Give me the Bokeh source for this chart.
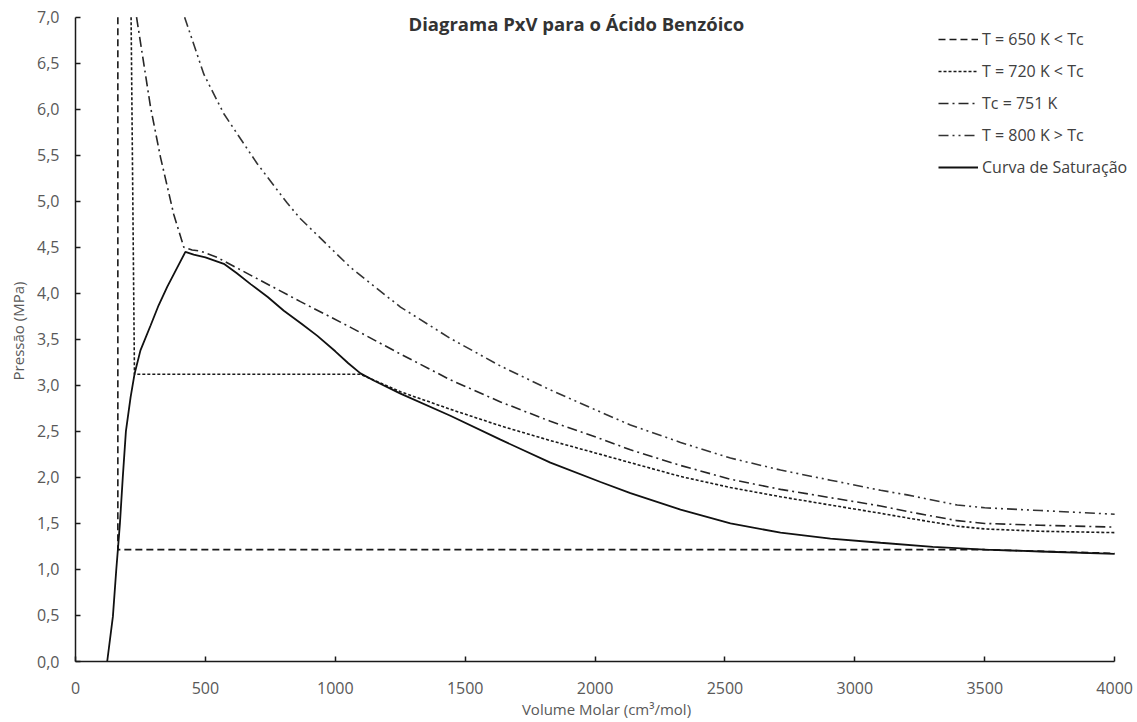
from bokeh.plotting import figure
from bokeh.models import Range1d, FixedTicker, CustomJSTickFormatter, Label, Legend, LegendItem
from bokeh.embed import file_html
from bokeh.resources import INLINE

# ---- data ----
x_ticks = [0, 500, 1000, 1500, 2000, 2500, 3000, 3500, 4000]
y_ticks = [0.0, 0.5, 1.0, 1.5, 2.0, 2.5, 3.0, 3.5, 4.0, 4.5, 5.0, 5.5, 6.0, 6.5, 7.0]

t650_v = [163, 163, 3500, 4000]
t650_p = [7.0, 1.215, 1.215, 1.175]

t720_v = [214, 227, 1097, 1251, 1443, 1636, 1828, 2021, 2136, 2329, 2521, 2714, 2906, 3099, 3201, 3394, 3500, 3714, 4000]
t720_p = [7.0, 3.12, 3.12, 2.93, 2.74, 2.56, 2.40, 2.25, 2.16, 2.01, 1.89, 1.79, 1.70, 1.61, 1.56, 1.47, 1.44, 1.415, 1.40]

tc_v = [235, 289, 327, 378, 417, 449, 480, 545, 712, 866, 1059, 1251, 1443, 1636, 1828, 2021, 2136, 2329, 2521, 2714, 2906, 3099, 3201, 3394, 3500, 3714, 4000]
tc_p = [7.0, 6.02, 5.48, 4.86, 4.50, 4.47, 4.46, 4.39, 4.14, 3.91, 3.63, 3.34, 3.06, 2.82, 2.61, 2.42, 2.30, 2.13, 1.98, 1.87, 1.78, 1.69, 1.63, 1.53, 1.50, 1.48, 1.46]

t800_v = [420, 494, 571, 699, 815, 866, 1059, 1251, 1443, 1636, 1828, 2021, 2136, 2329, 2521, 2714, 2906, 3099, 3201, 3394, 3500, 3714, 4000]
t800_p = [7.0, 6.38, 5.95, 5.41, 4.98, 4.81, 4.28, 3.85, 3.51, 3.21, 2.95, 2.71, 2.57, 2.38, 2.21, 2.08, 1.97, 1.86, 1.81, 1.70, 1.67, 1.64, 1.60]

sat_v = [122, 144, 157, 163, 171, 182, 194, 212, 227, 250, 289, 320, 353, 390, 423, 455, 500, 571, 620, 674, 740, 802, 870, 930, 1000, 1050, 1097, 1150, 1251, 1443, 1636, 1828, 2021, 2136, 2329, 2521, 2714, 2906, 3099, 3300, 3500, 3714, 4000]
sat_p = [0.0, 0.49, 1.0, 1.21, 1.5, 2.0, 2.5, 2.87, 3.12, 3.38, 3.65, 3.87, 4.07, 4.27, 4.45, 4.42, 4.39, 4.32, 4.22, 4.10, 3.96, 3.81, 3.67, 3.54, 3.37, 3.24, 3.13, 3.05, 2.91, 2.67, 2.41, 2.16, 1.95, 1.83, 1.65, 1.50, 1.40, 1.335, 1.29, 1.245, 1.215, 1.195, 1.17]

labels = ["T = 650 K < Tc", "T = 720 K < Tc", "Tc = 751 K", "T = 800 K > Tc", "Curva de Saturação"]

FONT = "Open Sans"
TXT = "#595959"

# frame reaches the top and right edges; the axes are bounded to 0-4000 and 0-7
p = figure(width=1137, height=722, output_backend="svg", toolbar_location=None,
           x_range=Range1d(0, 4088), y_range=Range1d(0, 7.181),
           min_border_left=75, min_border_right=0, min_border_top=0, min_border_bottom=61)
p.outline_line_color = None
p.xgrid.visible = False
p.ygrid.visible = False
p.background_fill_color = "white"
p.border_fill_color = "white"

for ax in (p.xaxis[0], p.yaxis[0]):
    ax.axis_line_color = "#1a1a1a"
    ax.axis_line_width = 1.5
    ax.major_tick_line_color = "#1a1a1a"
    ax.major_tick_line_width = 1.5
    ax.major_tick_in = 5
    ax.major_tick_out = 0
    ax.minor_tick_line_color = None
    ax.major_label_text_font = FONT
    ax.major_label_text_font_size = "16px"
    ax.major_label_text_color = TXT
    ax.axis_label_text_font = FONT
    ax.axis_label_text_font_size = "15px"
    ax.axis_label_text_color = TXT
    ax.axis_label_text_font_style = "normal"

p.xaxis[0].bounds = (0, 4000)
p.yaxis[0].bounds = (0, 7)
p.xaxis[0].ticker = FixedTicker(ticks=x_ticks)
p.yaxis[0].ticker = FixedTicker(ticks=y_ticks)
p.yaxis[0].formatter = CustomJSTickFormatter(code="return tick.toFixed(1).replace('.', ',');")
p.xaxis[0].major_label_standoff = 20
p.yaxis[0].major_label_standoff = 16
p.xaxis[0].axis_label = "Volume Molar (cm³/mol)"
p.yaxis[0].axis_label = "Pressão (MPa)"
p.xaxis[0].axis_label_standoff = 2
p.yaxis[0].axis_label_standoff = 6

LW = 1.6
r650 = p.line(t650_v, t650_p, line_color="#1a1a1a", line_width=LW, line_dash="7 4")
r720 = p.line(t720_v, t720_p, line_color="#1a1a1a", line_width=LW, line_dash="3 2")
rtc = p.line(tc_v, tc_p, line_color="#262626", line_width=LW, line_dash="10 4 2 4")
r800 = p.line(t800_v, t800_p, line_color="#333333", line_width=LW, line_dash="10 4 2 4 2 4")
rsat = p.line(sat_v, sat_p, line_color="#111111", line_width=1.8)

legend = Legend(items=[LegendItem(label=l, renderers=[r]) for l, r in zip(labels, [r650, r720, rtc, r800, rsat])],
                location=(863, 483), padding=0, spacing=10, glyph_width=40, glyph_height=22,
                label_height=22, label_standoff=4, border_line_color=None,
                background_fill_alpha=0, label_text_font=FONT, label_text_font_size="16px",
                label_text_color="#404040", margin=0)
p.add_layout(legend, "center")

title = Label(x=1928, y=6.93, text="Diagrama PxV para o Ácido Benzóico", text_align="center",
              text_baseline="middle", text_font=FONT, text_font_size="18.5px", text_font_style="bold",
              text_color="#333333")
p.add_layout(title)

open("out.html", "w").write(file_html(p, INLINE))
